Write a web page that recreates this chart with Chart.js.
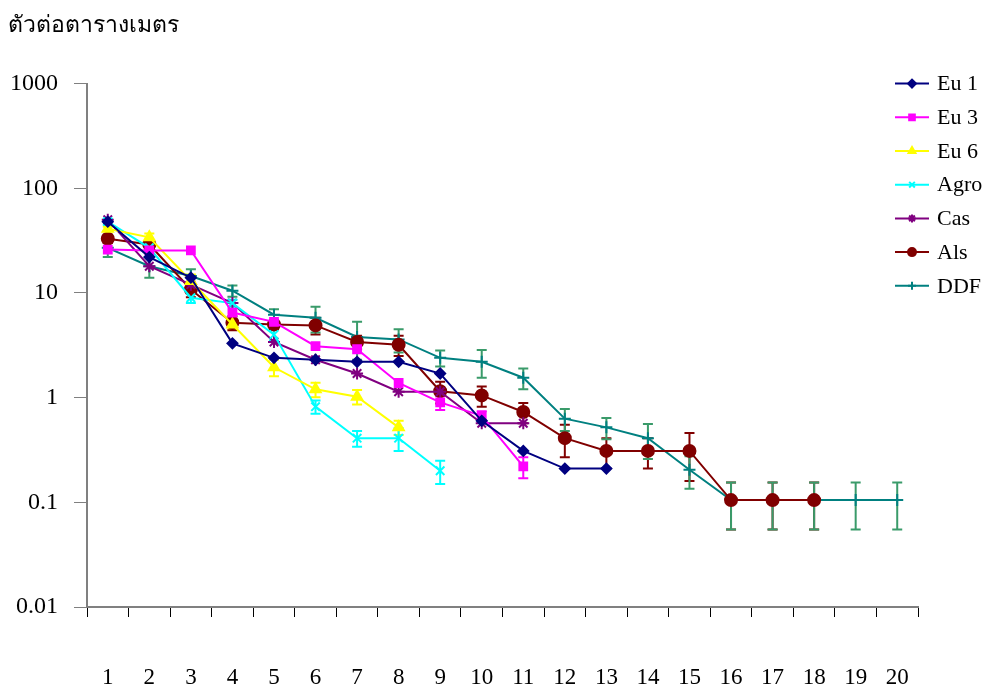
<!DOCTYPE html>
<html>
<head>
<meta charset="utf-8">
<script src="https://cdn.jsdelivr.net/npm/chart.js@4.4.1/dist/chart.umd.min.js"></script>
<style>
  html, body { margin: 0; padding: 0; background: #fff; }
  #wrap { width: 988px; height: 688px; }
</style>
</head>
<body>
<div id="wrap"><canvas id="myChart" width="988" height="688"></canvas></div>
<script>
// categories (x) and log ticks (y)
const labels = ['1','2','3','4','5','6','7','8','9','10','11','12','13','14','15','16','17','18','19','20'];
const yTicks = [0.01, 0.1, 1, 10, 100, 1000];
const yTitle = 'ตัวต่อตารางเมตร';

// series values
const eu1  = [48, 22, 14, 3.3, 2.4, 2.3, 2.2, 2.2, 1.7, 0.6, 0.31, 0.21, 0.21];
const eu3  = [26, 25.5, 25.5, 6.5, 5.3, 3.1, 2.9, 1.38, 0.9, 0.67, 0.22];
const eu6  = [41, 34, 13, 5, 1.95, 1.2, 1.02, 0.52];
const agro = [48, 27, 9, 8, 4, 0.82, 0.41, 0.41, 0.2];
const cas  = [50, 18, 12, 8, 3.4, 2.3, 1.7, 1.14, 1.14, 0.57, 0.57];
const als  = [33, 29, 10.8, 5.2, 5.0, 4.9, 3.4, 3.2, 1.15, 1.05, 0.73, 0.41, 0.31, 0.31, 0.31, 0.105, 0.105, 0.105];
const ddf  = [27, 18, 14.5, 10.5, 6.2, 5.8, 3.8, 3.6, 2.4, 2.2, 1.55, 0.63, 0.52, 0.41, 0.205, 0.105, 0.105, 0.105, 0.105, 0.105];

// error bar half-lengths (+/-)
const eu3Err  = [0, 0, 0, 0, 0, 0, 0, 0, 0.14, 0.07, 0.05];
const eu6Err  = [2, 3, 2, 0.5, 0.35, 0.19, 0.16, 0.08];
const agroErr = [3, 2, 1, 0.6, 0.5, 0.12, 0.07, 0.1, 0.05];
const alsErr  = [3, 2, 1.7, 0.8, 0.5, 0.9, 0.5, 0.7, 0.27, 0.23, 0.16, 0.14, 0.1, 0.1, 0.15, 0.05, 0.05, 0.05];
const ddfErr  = [5, 4, 2.3, 1.3, 0.8, 1.6, 1.5, 0.9, 0.42, 0.65, 0.35, 0.15, 0.12, 0.15, 0.07, 0.05, 0.05, 0.05, 0.05, 0.05];

function series(label, data, color, style, radius, err, errColor){
    return {
        label: label,
        data: data,
        borderColor: color,
        backgroundColor: color,
        pointStyle: style,
        pointRadius: radius,
        pointBorderWidth: 2,
        borderWidth: 2,
        tension: 0,
        errors: err,
        errorColor: errColor || color
    };
}

const datasets = [
    series('Eu 1', eu1, '#000080', 'rectRot', 5, null),
    series('Eu 3', eu3, '#FF00FF', 'rect', 5.5, eu3Err),
    series('Eu 6', eu6, '#FFFF00', 'triangle', 6, eu6Err),
    series('Agro', agro, '#00FFFF', 'crossRot', 6, agroErr),
    series('Cas', cas, '#800080', 'star', 6, null),
    series('Als', als, '#800000', 'circle', 6, alsErr),
    series('DDF', ddf, '#008080', 'cross', 6, ddfErr, '#3a9b6a')
];

const serif = '"Liberation Serif", "DejaVu Serif", serif';

// error bars drawn through the scales
const errorBars = {
    id: 'errorBars',
    beforeDatasetsDraw(chart){
        const ctx = chart.ctx;
        const y = chart.scales.y;
        chart.data.datasets.forEach(function(ds, i){
            if (!ds.errors) return;
            const meta = chart.getDatasetMeta(i);
            ctx.save();
            ctx.strokeStyle = ds.errorColor;
            ctx.lineWidth = 2;
            meta.data.forEach(function(pt, j){
                const e = ds.errors[j];
                const v = ds.data[j];
                if (!e || v == null) return;
                const top = y.getPixelForValue(v + e);
                const bot = y.getPixelForValue(Math.max(v - e, 0.0101));
                ctx.beginPath();
                ctx.moveTo(pt.x, top); ctx.lineTo(pt.x, bot);
                ctx.moveTo(pt.x - 5, top); ctx.lineTo(pt.x + 5, top);
                ctx.moveTo(pt.x - 5, bot); ctx.lineTo(pt.x + 5, bot);
                ctx.stroke();
            });
            ctx.restore();
        });
    }
};

// legend with a line and marker sample
const lineLegend = {
    id: 'lineLegend',
    afterDraw(chart){
        const ctx = chart.ctx;
        const x0 = chart.width - 93;
        chart.data.datasets.forEach(function(ds, i){
            const yy = chart.chartArea.top + i * 33.7;
            ctx.save();
            ctx.strokeStyle = ds.borderColor;
            ctx.lineWidth = 2;
            ctx.beginPath();
            ctx.moveTo(x0, yy); ctx.lineTo(x0 + 34, yy);
            ctx.stroke();
            ctx.fillStyle = ds.backgroundColor;
            Chart.helpers.drawPoint(ctx, {
                pointStyle: ds.pointStyle, radius: 4,
                rotation: 0, borderWidth: 2
            }, x0 + 17, yy);
            ctx.fillStyle = '#000';
            ctx.font = '22px ' + serif;
            ctx.textBaseline = 'middle';
            ctx.textAlign = 'left';
            ctx.fillText(ds.label, x0 + 42, yy + 1);
            ctx.restore();
        });
    }
};

const config = {
    type: 'line',
    data: { labels: labels, datasets: datasets },
    plugins: [errorBars, lineLegend],
    options: {
        responsive: false,
        animation: false,
        layout: { padding: { left: 8, right: 70, top: 0, bottom: 0 } },
        plugins: {
            legend: { display: false },
            tooltip: { enabled: false },
            title: {
                display: true,
                text: yTitle,
                align: 'start',
                color: '#000',
                font: { family: serif, size: 23, weight: 'normal' },
                padding: { top: 12, bottom: 44 }
            }
        },
        scales: {
            x: {
                type: 'category',
                offset: true,
                grid: {
                    display: true, offset: true, drawOnChartArea: false,
                    drawTicks: true, tickLength: 10, color: '#000', lineWidth: 1
                },
                border: { display: true, color: '#808080', width: 2 },
                ticks: {
                    color: '#000', padding: 47, maxRotation: 0, autoSkip: false,
                    font: { family: serif, size: 23 }
                },
                afterFit(s){ s.height = 81; }
            },
            y: {
                type: 'logarithmic',
                min: 0.01,
                max: 1000,
                afterBuildTicks(s){ s.ticks = yTicks.map(function(v){ return { value: v }; }); },
                grid: {
                    display: true, drawOnChartArea: false, drawTicks: true,
                    tickLength: 13, color: '#808080', lineWidth: 1
                },
                border: { display: true, color: '#808080', width: 2 },
                ticks: {
                    color: '#000', padding: 16,
                    font: { family: serif, size: 24 },
                    callback: function(v){ return String(v); }
                },
                afterFit(s){ s.width = 79; }
            }
        }
    }
};

const myChart = new Chart(document.getElementById('myChart'), config);
</script>
</body>
</html>
